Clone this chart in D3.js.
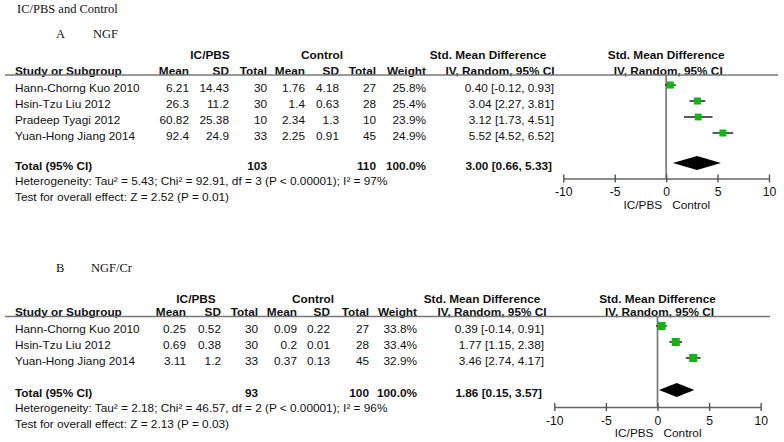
<!DOCTYPE html>
<html>
<head>
<meta charset="utf-8">
<script src="https://cdn.jsdelivr.net/npm/d3@7"></script>
<style>
  html, body { margin: 0; padding: 0; background: #fff; }
  svg { display: block; }
</style>
</head>
<body>
<svg id="chart" width="784" height="442"></svg>
<script>
// ---------- DATA ----------
const studiesA   = ["Hann-Chorng Kuo 2010", "Hsin-Tzu Liu 2012", "Pradeep Tyagi 2012", "Yuan-Hong Jiang 2014"];
const icMeanA    = [6.21, 26.3, 60.82, 92.4];
const icSdA      = [14.43, 11.2, 25.38, 24.9];
const icTotalA   = [30, 30, 10, 33];
const ctMeanA    = [1.76, 1.4, 2.34, 2.25];
const ctSdA      = [4.18, 0.63, 1.3, 0.91];
const ctTotalA   = [27, 28, 10, 45];
const weightA    = [25.8, 25.4, 23.9, 24.9];
const smdA       = [0.40, 3.04, 3.12, 5.52];
const lowA       = [-0.12, 2.27, 1.73, 4.52];
const highA      = [0.93, 3.81, 4.51, 6.52];
const totalA     = {ic: 103, ct: 110, smd: 3.00, low: 0.66, high: 5.33};
const hetA       = "Heterogeneity: Tau\u00b2 = 5.43; Chi\u00b2 = 92.91, df = 3 (P < 0.00001); I\u00b2 = 97%";
const testA      = "Test for overall effect: Z = 2.52 (P = 0.01)";

const studiesB   = ["Hann-Chorng Kuo 2010", "Hsin-Tzu Liu 2012", "Yuan-Hong Jiang 2014"];
const icMeanB    = [0.25, 0.69, 3.11];
const icSdB      = [0.52, 0.38, 1.2];
const icTotalB   = [30, 30, 33];
const ctMeanB    = [0.09, 0.2, 0.37];
const ctSdB      = [0.22, 0.01, 0.13];
const ctTotalB   = [27, 28, 45];
const weightB    = [33.8, 33.4, 32.9];
const smdB       = [0.39, 1.77, 3.46];
const lowB       = [-0.14, 1.15, 2.74];
const highB      = [0.91, 2.38, 4.17];
const totalB     = {ic: 93, ct: 100, smd: 1.86, low: 0.15, high: 3.57};
const hetB       = "Heterogeneity: Tau\u00b2 = 2.18; Chi\u00b2 = 46.57, df = 2 (P < 0.00001); I\u00b2 = 96%";
const testB      = "Test for overall effect: Z = 2.13 (P = 0.03)";

const xTicks     = [-10, -5, 0, 5, 10];
const xDomain    = [-10, 10];

// ---------- DRAW ----------
const svg = d3.select("#chart");
const SANS = "'Liberation Sans', Arial, sans-serif";
const SERIF = "'Liberation Serif', 'Times New Roman', serif";
const GREEN = "#16b316";
const FS = 11.8;

svg.append("text").attr("x", 17).attr("y", 13)
  .attr("font-family", SERIF).attr("font-size", 12.5).attr("fill", "#111")
  .text("IC/PBS and Control");

function panel(cfg) {
  const g = svg.append("g");
  const t = (x, y, s, anchor, bold, size) => g.append("text")
    .attr("x", x).attr("y", y).attr("text-anchor", anchor || "start")
    .attr("font-family", SANS).attr("font-size", size || FS)
    .attr("font-weight", bold ? "bold" : "normal").attr("fill", "#111").text(s);

  // section label
  g.append("text").attr("x", cfg.letterX).attr("y", cfg.secY).attr("font-family", SERIF)
    .attr("font-size", 12.5).attr("fill", "#111").text(cfg.letter);
  g.append("text").attr("x", cfg.nameX).attr("y", cfg.secY).attr("font-family", SERIF)
    .attr("font-size", 12.5).attr("fill", "#111").text(cfg.name);

  const c = cfg.cols;
  const x = d3.scaleLinear().domain(xDomain).range(cfg.plotRange);
  const zero = x(0);

  // headers
  t(c.ic, cfg.h1, "IC/PBS", "middle", true);
  t(c.ct, cfg.h1, "Control", "middle", true);
  t(c.smdH, cfg.h1, "Std. Mean Difference", "middle", true);
  t(zero, cfg.h1, "Std. Mean Difference", "middle", true);
  t(15, cfg.h2, "Study or Subgroup", "start", true);
  t(c.m1, cfg.h2, "Mean", "end", true);
  t(c.s1, cfg.h2, "SD", "end", true);
  t(c.t1, cfg.h2, "Total", "end", true);
  t(c.m2, cfg.h2, "Mean", "end", true);
  t(c.s2, cfg.h2, "SD", "end", true);
  t(c.t2, cfg.h2, "Total", "end", true);
  t(c.w, cfg.h2, "Weight", "end", true);
  t(c.ivH, cfg.h2, "IV, Random, 95% CI", "middle", true);
  t(zero + 2, cfg.h2, "IV, Random, 95% CI", "middle", true);

  g.append("line").attr("x1", 5).attr("x2", cfg.lineEnd)
    .attr("y1", cfg.h2 + 0.5).attr("y2", cfg.h2 + 0.5)
    .attr("stroke", "#777").attr("stroke-width", 1.6);

  // rows
  const d = cfg.data;
  const rowY = i => cfg.row0 + i * cfg.step;
  const fmt2 = v => v.toFixed(2);
  d.studies.forEach((s, i) => {
    const y = rowY(i);
    t(15, y, s);
    t(c.m1, y, String(d.icMean[i]), "end");
    t(c.s1, y, String(d.icSd[i]), "end");
    t(c.t1, y, String(d.icTotal[i]), "end");
    t(c.m2, y, String(d.ctMean[i]), "end");
    t(c.s2, y, String(d.ctSd[i]), "end");
    t(c.t2, y, String(d.ctTotal[i]), "end");
    t(c.w, y, d.weight[i].toFixed(1) + "%", "end");
    t(c.ci, y, `${fmt2(d.smd[i])} [${fmt2(d.low[i])}, ${fmt2(d.high[i])}]`, "end");
  });
  // total
  const ty = cfg.totalY;
  t(15, ty, "Total (95% CI)", "start", true);
  t(c.t1, ty, String(d.total.ic), "end", true);
  t(c.t2, ty, String(d.total.ct), "end", true);
  t(c.w, ty, "100.0%", "end", true);
  t(c.ci - 2, ty, `${fmt2(d.total.smd)} [${fmt2(d.total.low)}, ${fmt2(d.total.high)}]`, "end", true);
  t(15, cfg.hetY, d.het);
  t(15, cfg.testY, d.test);

  // zero line
  g.append("line").attr("x1", zero).attr("x2", zero)
    .attr("y1", cfg.h2 + 0.5).attr("y2", cfg.axisY)
    .attr("stroke", "#808080").attr("stroke-width", 1.8);

  // axis
  const ax = g.append("g").attr("transform", `translate(0,${cfg.axisY})`)
    .call(d3.axisBottom(x).tickValues(xTicks).tickSizeOuter(0).tickSizeInner(4).tickPadding(6)
      .tickFormat(v => String(v)));
  ax.select(".domain").attr("stroke", "#666").attr("stroke-width", 1.6);
  ax.selectAll(".tick line").attr("y1", -4).attr("y2", 4).attr("stroke", "#555").attr("stroke-width", 1.4);
  ax.selectAll(".tick text").attr("font-family", SANS).attr("font-size", 12.2).attr("fill", "#111")
    .attr("y", 9);
  t(zero - 4, cfg.axisLabY, "IC/PBS", "end");
  t(zero + 6, cfg.axisLabY, "Control", "start");

  // CIs and squares
  d.studies.forEach((s, i) => {
    const y = rowY(i) - 7;
    g.append("line").attr("x1", x(d.low[i])).attr("x2", x(d.high[i]))
      .attr("y1", y).attr("y2", y).attr("stroke", "#222").attr("stroke-width", 1.5);
    const sz = Math.sqrt(d.weight[i]) * 1.4;
    g.append("rect").attr("x", x(d.smd[i]) - sz / 2).attr("y", y - sz / 2)
      .attr("width", sz).attr("height", sz).attr("fill", GREEN);
  });
  // diamond
  const dy = ty - 7;
  g.append("path").attr("d",
    `M${x(d.total.low)},${dy} L${x(d.total.smd)},${dy - 7} L${x(d.total.high)},${dy} L${x(d.total.smd)},${dy + 7} Z`)
    .attr("fill", "#000");
}

panel({
  letter: "A", letterX: 56, name: "NGF", nameX: 93, secY: 38,
  h1: 59, h2: 74.5, row0: 92, step: 16, totalY: 170, hetY: 185, testY: 201,
  axisY: 178.5, axisLabY: 209,
  plotRange: [563.3, 769], lineEnd: 778,
  cols: {ic: 210, ct: 322, smdH: 488, ivH: 500, m1: 189, s1: 229, t1: 267, m2: 305, s2: 339, t2: 376, w: 426, ci: 554},
  data: {studies: studiesA, icMean: icMeanA, icSd: icSdA, icTotal: icTotalA, ctMean: ctMeanA, ctSd: ctSdA,
         ctTotal: ctTotalA, weight: weightA, smd: smdA, low: lowA, high: highA, total: totalA, het: hetA, test: testA}
});

panel({
  letter: "B", letterX: 56, name: "NGF/Cr", nameX: 91, secY: 272,
  h1: 303, h2: 316, row0: 333, step: 16, totalY: 397, hetY: 412, testY: 428,
  axisY: 407, axisLabY: 437,
  plotRange: [554.3, 760.7], lineEnd: 770,
  cols: {ic: 196, ct: 313, smdH: 482, ivH: 492, m1: 186, s1: 221, t1: 258, m2: 297, s2: 330, t2: 369, w: 417, ci: 544},
  data: {studies: studiesB, icMean: icMeanB, icSd: icSdB, icTotal: icTotalB, ctMean: ctMeanB, ctSd: ctSdB,
         ctTotal: ctTotalB, weight: weightB, smd: smdB, low: lowB, high: highB, total: totalB, het: hetB, test: testB}
});
</script>
</body>
</html>
